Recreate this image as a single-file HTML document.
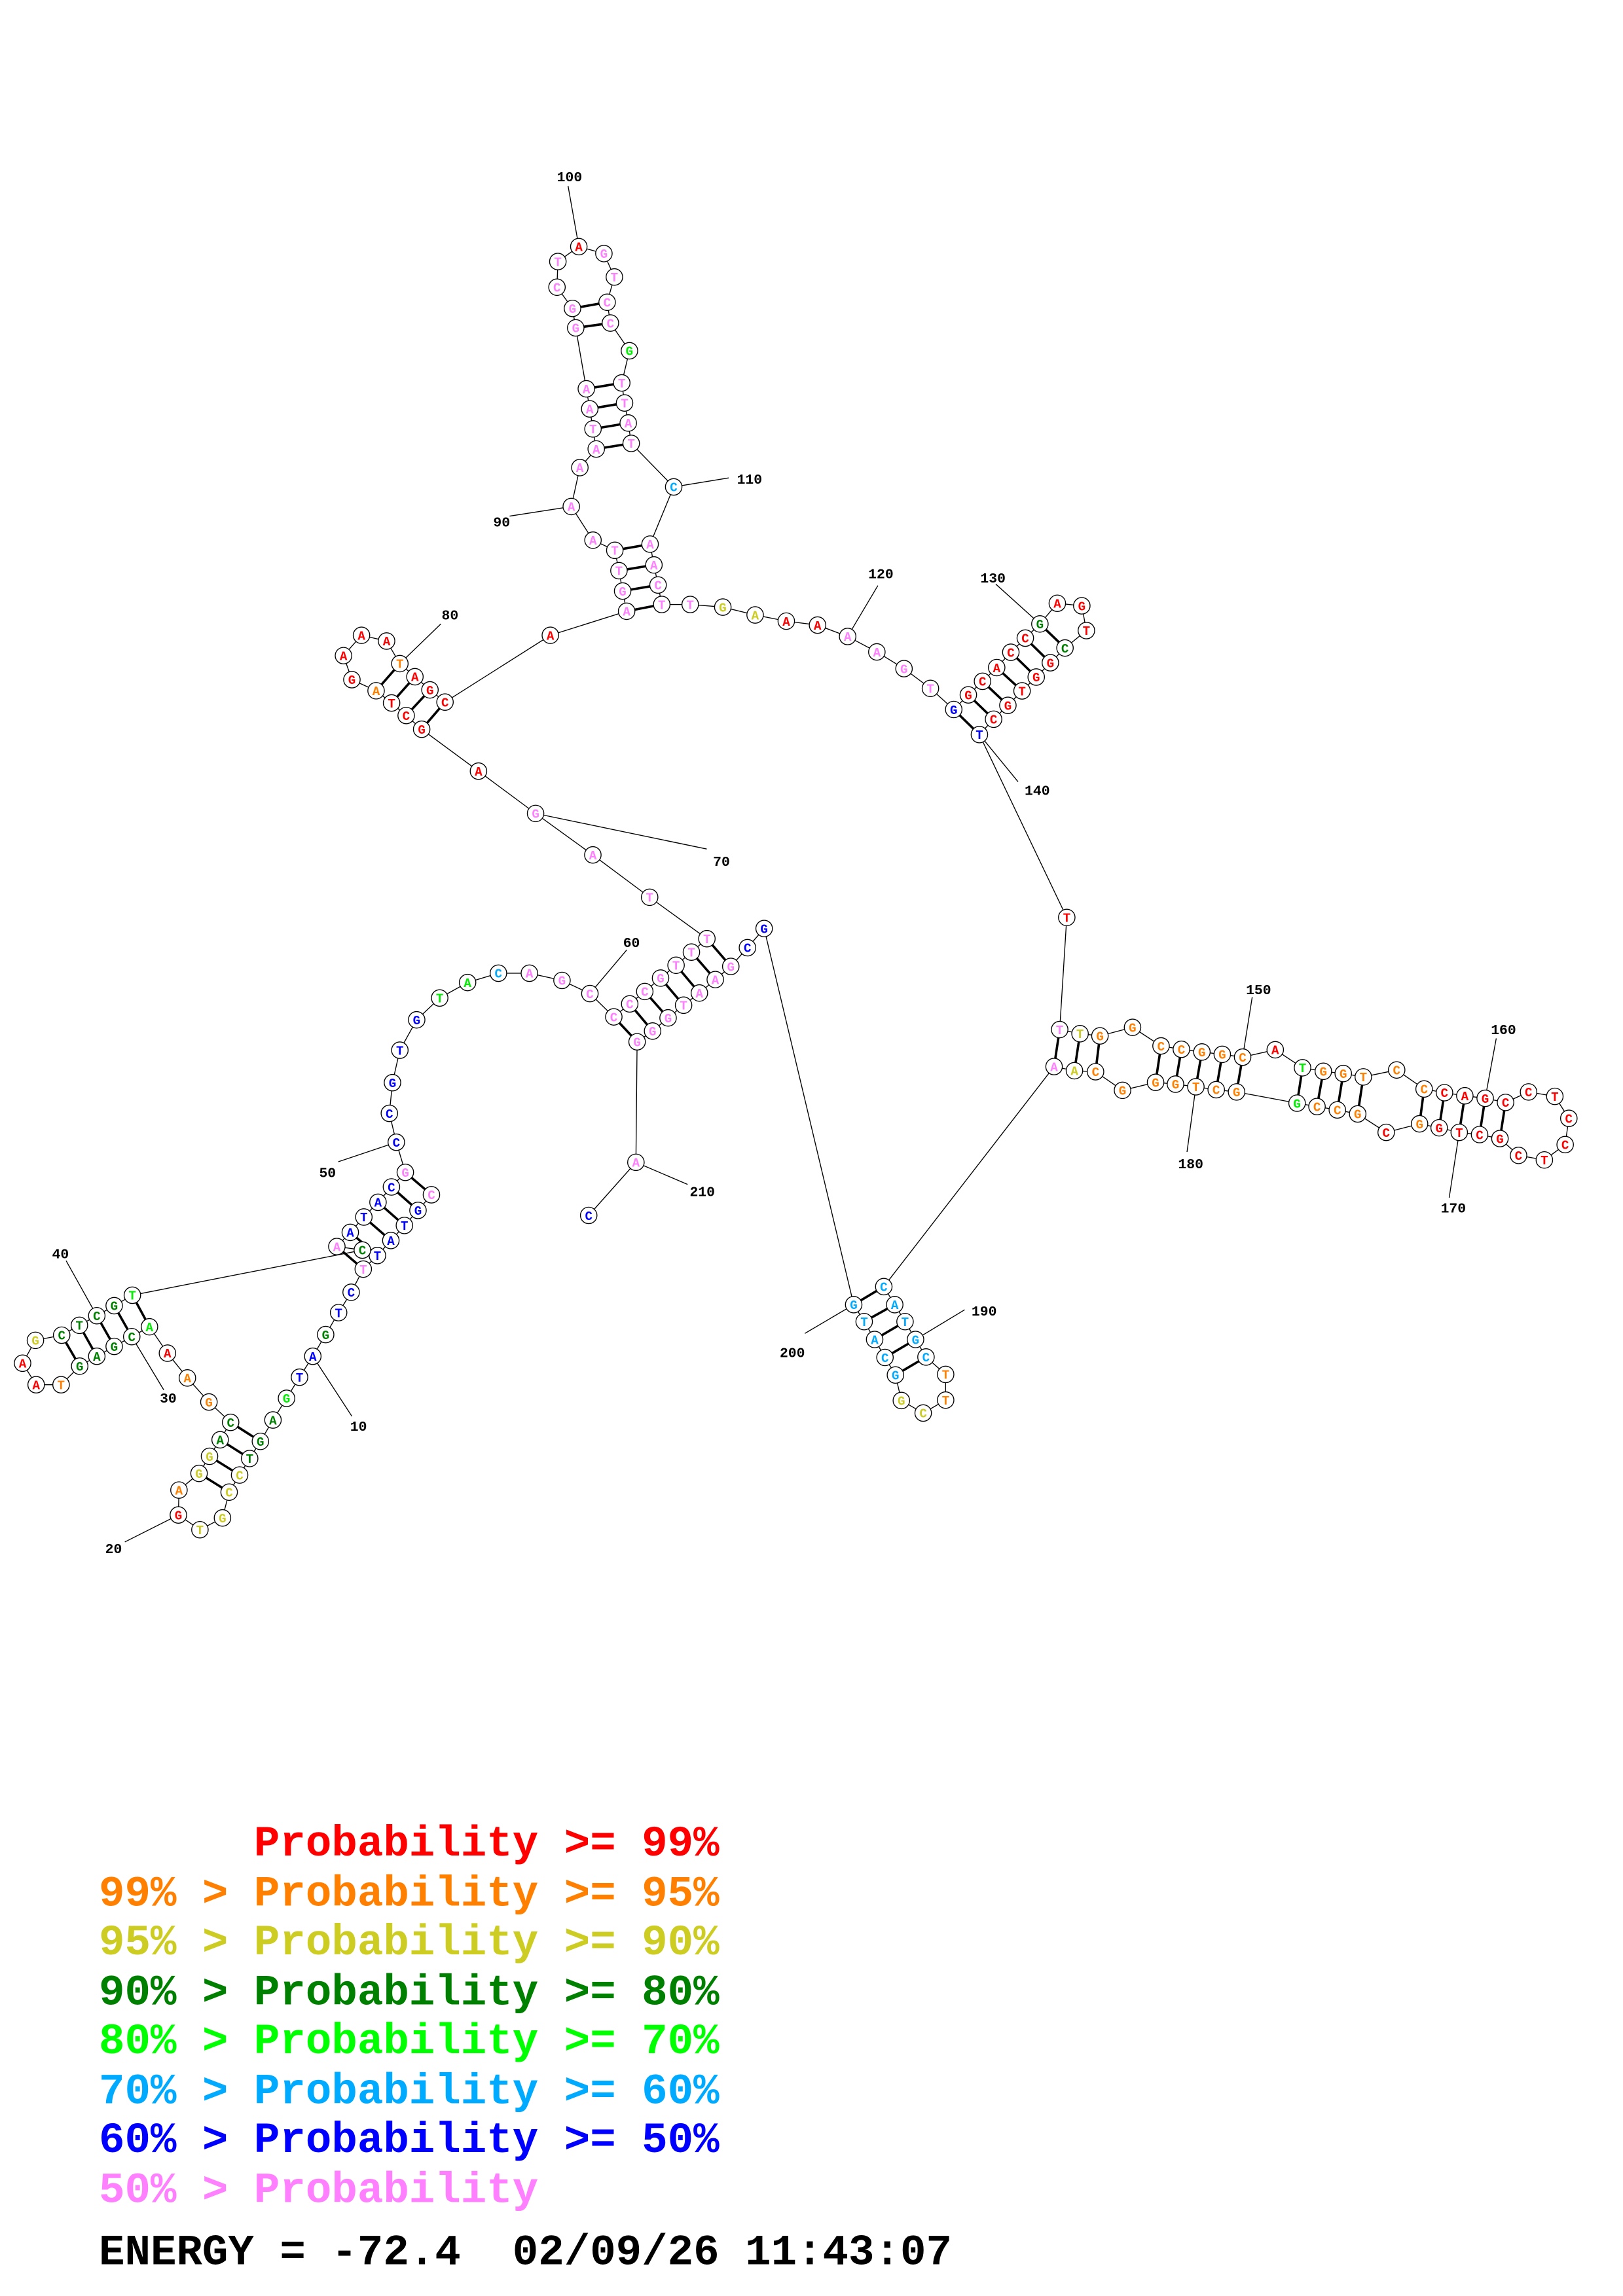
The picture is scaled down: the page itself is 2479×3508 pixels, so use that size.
<!DOCTYPE html>
<html><head><meta charset="utf-8">
<style>
html,body{margin:0;padding:0;background:#fff;}
svg{display:block;}
.n{fill:#fff;stroke:#000;stroke-width:0.6;}
.t{font-family:"Liberation Mono",monospace;font-weight:bold;font-size:8.5px;text-anchor:middle;}
.r{fill:#ff0000}.o{fill:#ff8000}.y{fill:#cccc22}.d{fill:#008000}.g{fill:#00ee00}.c{fill:#00aaff}.b{fill:#0000ff}.p{fill:#ff80ff}
.lab{font-family:"Liberation Mono",monospace;font-weight:bold;font-size:9.5px;text-anchor:middle;fill:#000}
.leg{font-family:"Liberation Mono",monospace;font-weight:bold;font-size:29.2px;white-space:pre;}
</style></head><body>
<svg id="s" width="2479" height="3508" viewBox="0 0 1100 1556.6" xmlns="http://www.w3.org/2000/svg">
<g id="bb" fill="none" stroke="#000" stroke-width="0.6"></g>
<g id="pr" stroke="#000" stroke-width="1.6"></g>
<g id="ll" stroke="#000" stroke-width="0.6"></g>
<g id="nd"></g>
<g id="lb"></g>
<text class="leg" x="67" y="1258"><tspan class="r">      Probability &gt;= 99%</tspan></text>
<text class="leg o" x="67" y="1292">99% &gt; Probability &gt;= 95%</text>
<text class="leg y" x="67" y="1325">95% &gt; Probability &gt;= 90%</text>
<text class="leg d" x="67" y="1359">90% &gt; Probability &gt;= 80%</text>
<text class="leg" x="67" y="1392" fill="#00ff00">80% &gt; Probability &gt;= 70%</text>
<text class="leg c" x="67" y="1426">70% &gt; Probability &gt;= 60%</text>
<text class="leg b" x="67" y="1459">60% &gt; Probability &gt;= 50%</text>
<text class="leg p" x="67" y="1493">50% &gt; Probability</text>
<text class="leg" x="67" y="1535" fill="#000">ENERGY = -72.4  02/09/26 11:43:07</text>
</svg>
<script>
var N=`C p 292.4 810
G b 283.3 820.6
T b 274.1 830.8
A b 264.9 841
T b 255.8 851.2
T p 246.2 860.4
C b 238 876.1
T b 229.5 889.9
G d 220.7 904.8
A b 212 919.5
T b 203 933.7
G g 194.2 948
A d 185 962.7
G d 176.5 977.2
T d 169.2 988.8
C y 162.4 1000
C y 155.3 1011.6
G y 150.8 1029.1
T y 135.5 1037.1
G r 120.9 1027.1
A o 121.3 1010.2
G y 134.9 998.9
G y 142 987.3
A d 149.2 976.1
C d 156.3 964.3
G o 141.6 950.5
A o 127 934.2
A r 113.5 917.4
A g 101.3 899.5
C d 89.3 906.2
G d 77.4 912.8
A d 65.6 919.5
G d 54 926.2
T o 41.4 938.8
A r 24.5 938.8
A r 15.3 924.2
G y 24 908.7
C d 41.8 905.2
T d 53.8 898.5
C d 65.6 892
G d 77.4 885.2
T g 89.7 878.1
C d 245.6 847.5
A p 228.3 845.1
A b 237.4 835.5
T b 246.6 825.1
A b 256.2 815.1
C b 265.3 804.7
G p 274.7 794.8
C b 268.6 774.4
C b 263.9 754.8
G b 266 734
T b 271 712
G b 282.4 691.4
T g 298 676.6
A g 316.9 666.1
C c 337.8 659.8
A p 358.8 659.8
G p 380.9 664.7
C p 399.8 673.6
C p 416 689.4
C p 426.8 680.6
C p 437 672.2
G p 447.7 663.1
T p 458.2 654.4
T p 468.6 645.5
T p 479.1 636.4
T p 440.3 608.3
A p 401.8 579.6
G p 363 551.5
A r 324.3 522.8
G r 285.8 494.4
C r 275.3 485.1
T r 265.4 476.6
A o 254.9 468.3
G r 238.5 460.8
A r 232.8 444.5
A r 245 430.7
A r 262 434.6
T o 271 449.9
A r 281.2 458.8
G r 291.4 467.7
C r 301.6 476
A r 373 430.7
A p 424.7 414.4
G p 422 400.7
T p 419.5 386.9
T p 416.7 373.1
A p 401.9 366.2
A p 387.2 343.4
A p 393 317
A p 404.1 304.4
T p 401.9 290.8
A p 399.7 277.2
A p 397.4 263.6
G p 390.2 222.3
G p 388 209.1
C p 377.5 194.7
T p 378.1 177.3
A r 392.3 167.2
G p 409.3 171.9
T p 416.4 187.8
C p 411.5 204.9
C p 413.7 219
G g 426.6 237.8
T p 421.4 259.6
T p 423.3 273.2
A p 425.8 286.8
T p 427.8 300.6
C c 456.6 330.1
A p 440.6 368.9
A p 443.2 383
C p 446 396.6
T p 448.5 409.8
T p 467.8 409.8
G y 489.9 411.6
A y 511.8 416.9
A r 532.9 421.1
A r 554.1 423.8
A p 574.5 431.5
A p 594.3 442
G p 612.7 453.3
T p 630.6 466.7
G b 646.4 481
G r 656.3 471.1
C r 665.9 461.9
A r 675.5 452.6
C r 685.1 442.2
C r 694.9 432.6
G d 704.8 423
A r 716.6 409
G r 733.2 410.7
T r 736.3 427.5
C d 721.8 439.3
G r 711.9 449.3
G r 702.3 459
T r 692.7 468.4
G r 683.1 478.2
C r 673.4 487.6
T b 663.8 498
T r 723 622
T p 718.2 698
T y 732 700.8
G o 745.5 702.3
G o 767.6 696.5
C o 786.9 709.1
C o 800.7 711.4
G o 814.6 713.2
G o 828.4 714.8
C o 842.2 716.7
A r 864.3 711.7
T g 882.8 723.9
G o 896.9 726.3
G o 910.4 727.8
T o 924 730.1
C o 946.6 725.4
C o 965.2 738.3
C r 979 740.8
A r 992.8 742.9
G r 1006.6 744.6
C r 1020.4 747.4
C r 1036 740.3
T r 1053.8 743.3
C r 1063.3 758.2
C r 1060.8 776
T r 1046.7 786.4
C r 1029.2 783.3
G r 1016.6 771.9
C r 1002.8 769.2
T r 989 767.7
G r 975.4 764.6
G o 962.1 761.9
C r 939.5 767.7
G o 920.2 755.2
C o 906.4 752.5
C o 892.6 750.2
G g 879.1 747.9
G o 838.1 740.3
C o 824.3 738.8
T o 810.5 736.8
G o 796.7 735
G o 783.2 733.8
G o 760.8 739.2
C o 742.5 726.6
A y 728.2 725.9
A p 714.4 723.1
C c 599 872.3
A c 606.4 884.5
T c 613.4 896
G c 620.5 908.1
C c 627.6 920
T o 640.9 931.8
T o 640.9 949.2
C y 625.7 958
G y 610.9 949.5
G c 606.9 932.2
C c 599.8 920.3
A c 592.8 908.1
T c 585.7 896
G c 578.6 884.5
G b 517.9 629.5
C b 506.6 642.5
G p 495.3 655.2
A p 484.8 664.1
A p 474 673.2
T p 463.3 681.5
G p 452.8 690.1
G p 442.3 699
G p 431.8 706.3
A p 431 788
C b 399 824`.split("\n").map(function(l){var a=l.trim().split(/\s+/);return [a[0],a[1],+a[2],+a[3]];});
var P=[[1,49],[2,48],[3,47],[4,46],[5,45],[6,44],[14,25],[15,24],[16,23],[17,22],[29,42],[30,41],[31,40],[32,39],[33,38],
[61,209],[62,208],[63,207],[64,206],[65,205],[66,204],[67,203],[72,83],[73,82],[74,81],[75,80],
[85,114],[86,113],[87,112],[88,111],[92,109],[93,108],[94,107],[95,106],[96,104],[97,103],
[124,140],[125,139],[126,138],[127,137],[128,136],[129,135],[130,134],
[142,186],[143,185],[144,184],[146,182],[147,181],[148,180],[149,179],[150,178],[152,177],[153,176],[154,175],[155,174],[157,172],[158,171],[159,170],[160,169],[161,168],
[187,200],[188,199],[189,198],[190,197],[191,196]];
var L=[[10,"10",243,970,238.5,960.2],[20,"20",77,1053,84.6,1045.4],[30,"30",114,951,111,942.3],[40,"40",41,853,44.8,854.7],
[50,"50",222,798,229.3,787.6],[60,"60",428,642,424.8,644],[70,"70",489,587,479,575.6],[80,"80",305,420,298.8,423],
[90,"90",340,357,345.4,349.9],[100,"100",386,123,385,126],[110,"110",508,328,493.9,324],[120,"120",597,392,595,397],
[130,"130",673,395,674.9,396],[140,"140",703,539,690,530],[150,"150",853,674,848.7,676],[160,"160",1019,701,1014.1,704],
[170,"170",985,822,982.2,812],[180,"180",807,792,804.5,781],[190,"190",667,892,653.8,888],[200,"200",537,920,545.5,904],[210,"210",476,811,466,803]];
var NS="http://www.w3.org/2000/svg";
function el(t,a,par){var e=document.createElementNS(NS,t);for(var k in a)e.setAttribute(k,a[k]);document.getElementById(par).appendChild(e);return e;}
el("polyline",{points:N.map(function(n){return n[2]+","+n[3];}).join(" ")},"bb");
P.forEach(function(p){var a=N[p[0]-1],b=N[p[1]-1];el("line",{x1:a[2],y1:a[3],x2:b[2],y2:b[3]},"pr");});
L.forEach(function(l){var a=N[l[0]-1];el("line",{x1:a[2],y1:a[3],x2:l[4],y2:l[5]},"ll");var t=el("text",{x:l[2],y:l[3],"class":"lab"},"lb");t.textContent=l[1];});
N.forEach(function(n){el("circle",{cx:n[2],cy:n[3],r:5.6,"class":"n"},"nd");var t=el("text",{x:n[2],y:n[3]+3,"class":"t "+n[1]},"nd");t.textContent=n[0];});
</script>
</body></html>
